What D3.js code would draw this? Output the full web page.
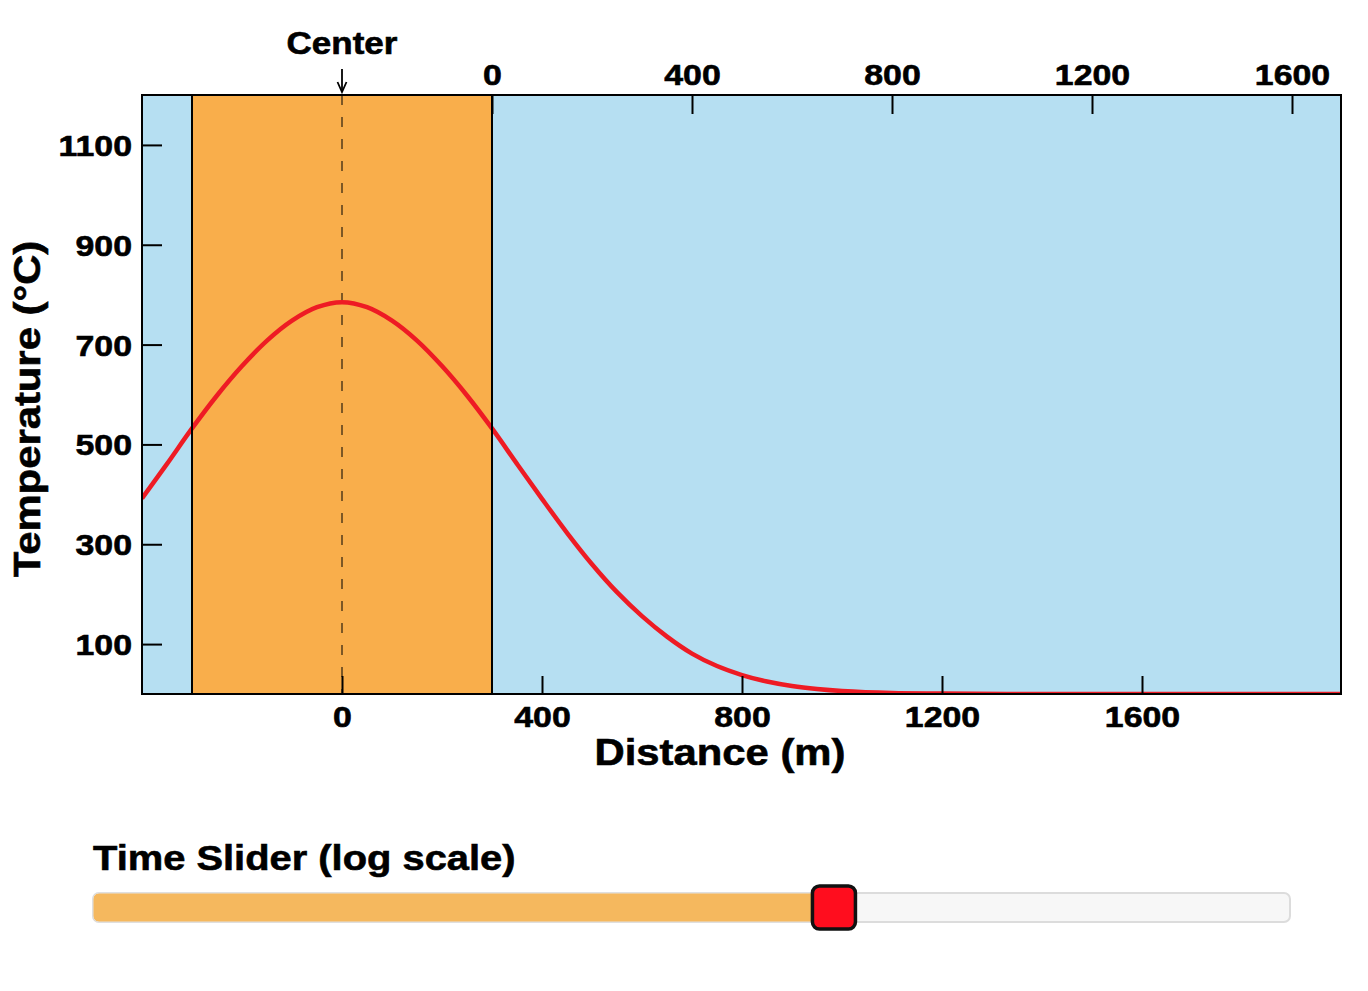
<!DOCTYPE html>
<html>
<head>
<meta charset="utf-8">
<script src="https://cdn.jsdelivr.net/npm/d3@7"></script>
<style>
  html, body { margin: 0; padding: 0; background: #ffffff; }
  svg { display: block; }
  text { font-family: "Liberation Sans", Arial, Helvetica, sans-serif; font-weight: bold; fill: #000; stroke: #000; stroke-width: 0.6px; }
</style>
</head>
<body>
<svg id="chart" width="1368" height="991"></svg>
<script>
// ---------------- data ----------------
const distance = [-400,-350,-300,-250,-200,-150,-100,-50,0,50,100,150,200,250,300,350,400,450,500,550,600,650,700,750,800,850,900,950,1000,1100,1200,1400,1600,1800,2000];
const temperature = [392,461,532,598,657,708,748,775,785,775,748,708,657,598,532,461,391,323,260,204,156,115,81,56,38,25,16,10,6,2,1,0,0,0,0];
const dikeEdges = [-300, 300];
const bottomTicks = [0, 400, 800, 1200, 1600];
const topTicks = [0, 400, 800, 1200, 1600];
const yTicks = [100, 300, 500, 700, 900, 1100];
const xDomain = [-400, 2000];
const yDomain = [0, 1200];
const centerLabel = "Center";
const xTitle = "Distance (m)";
const yTitle = "Temperature (°C)";
const sliderTitle = "Time Slider (log scale)";
const sliderPosition = 0.619;

// ---------------- layout ----------------
const L = 142, R = 1342, T = 95, B = 694;
const SX = 1.13; // horizontal glyph stretch
const svg = d3.select("#chart");

const x = d3.scaleLinear().domain(xDomain).range([L, R]);
const y = d3.scaleLinear().domain(yDomain).range([B, T]);
const xTop = d3.scaleLinear().domain([xDomain[0] - dikeEdges[1], xDomain[1] - dikeEdges[1]]).range([L, R]);

// background
svg.append("rect").attr("x", L).attr("y", T).attr("width", R - L - 1).attr("height", B - T)
  .attr("fill", "#b6dff2");
// dike band
svg.append("rect").attr("x", x(dikeEdges[0])).attr("y", T)
  .attr("width", x(dikeEdges[1]) - x(dikeEdges[0])).attr("height", B - T)
  .attr("fill", "#f9ae4b");

// center dashed line
svg.append("line").attr("x1", x(0)).attr("x2", x(0)).attr("y1", T).attr("y2", B)
  .attr("stroke", "#000").attr("stroke-opacity", 0.5).attr("stroke-width", 2)
  .attr("stroke-dasharray", "10,12");

// curve
svg.append("clipPath").attr("id", "clip").append("rect")
  .attr("x", L).attr("y", T - 5).attr("width", R - L - 1).attr("height", B - T + 5);
const line = d3.line().x((d, i) => x(distance[i])).y(d => y(d)).curve(d3.curveCatmullRom.alpha(0.5));
svg.append("path").datum(temperature).attr("d", line)
  .attr("clip-path", "url(#clip)")
  .attr("fill", "none").attr("stroke", "#ee1b24").attr("stroke-width", 4.5);

// dike edge lines
dikeEdges.forEach(e => {
  svg.append("line").attr("x1", x(e)).attr("x2", x(e)).attr("y1", T).attr("y2", B)
    .attr("stroke", "#000").attr("stroke-width", 2);
});

// axes
const gB = svg.append("g").attr("transform", `translate(0,${B})`)
  .call(d3.axisBottom(x).tickValues(bottomTicks).tickSizeInner(-18).tickSizeOuter(0).tickFormat(d3.format("d")));
const gT = svg.append("g").attr("transform", `translate(0,${T})`)
  .call(d3.axisTop(xTop).tickValues(topTicks).tickSizeInner(-19).tickSizeOuter(0).tickFormat(d3.format("d")));
const gL = svg.append("g").attr("transform", `translate(${L},0)`)
  .call(d3.axisLeft(y).tickValues(yTicks).tickSizeInner(-20).tickSizeOuter(0).tickFormat(d3.format("d")));

[gB, gT, gL].forEach(g => {
  g.select(".domain").remove();
  g.selectAll(".tick line").attr("stroke", "#000").attr("stroke-width", 2);
  g.selectAll(".tick text").attr("font-size", 30).attr("fill", "#000")
    .attr("font-family", "Liberation Sans, Arial, sans-serif").attr("font-weight", "bold");
});
gB.selectAll(".tick text").attr("x", 0).attr("y", 33).attr("dy", null)
  .attr("transform", `scale(${SX},1)`);
gT.selectAll(".tick text").attr("x", 0).attr("y", -10).attr("dy", null)
  .attr("transform", `scale(${SX},1)`);
gL.selectAll(".tick text").attr("x", -10 / SX).attr("y", 10.5).attr("dy", null)
  .attr("text-anchor", "end").attr("transform", `scale(${SX},1)`);

// frame
svg.append("rect").attr("x", L).attr("y", T).attr("width", R - L - 1).attr("height", B - T)
  .attr("fill", "none").attr("stroke", "#000").attr("stroke-width", 2);

// center label + arrow
svg.append("text").attr("transform", `translate(${x(0)},54) scale(${SX},1)`)
  .attr("text-anchor", "middle").attr("font-size", 31).text(centerLabel);
svg.append("line").attr("x1", x(0)).attr("x2", x(0)).attr("y1", 69).attr("y2", 91)
  .attr("stroke", "#000").attr("stroke-width", 1.8);
svg.append("path").attr("d", `M${x(0) - 4.5},82 L${x(0)},92 L${x(0) + 4.5},82`)
  .attr("fill", "none").attr("stroke", "#000").attr("stroke-width", 1.8);

// axis titles
svg.append("text").attr("transform", `translate(720,765) scale(${SX},1)`)
  .attr("text-anchor", "middle").attr("font-size", 37).text(xTitle);
svg.append("text").attr("transform", `translate(39.5,409) rotate(-90) scale(${SX},1)`)
  .attr("text-anchor", "middle").attr("font-size", 37).text(yTitle);

// slider
const sL = 93, sR = 1290, sT = 893, sH = 29;
const sx = d3.scaleLinear().domain([0, 1]).range([sL, sR]);
svg.append("text").attr("transform", `translate(${sL},870) scale(${SX},1)`)
  .attr("font-size", 35.3).text(sliderTitle);
svg.append("rect").attr("x", sL).attr("y", sT).attr("width", sR - sL).attr("height", sH)
  .attr("rx", 6).attr("fill", "#f7f7f7").attr("stroke", "#dcdcdc").attr("stroke-width", 2);
svg.append("rect").attr("x", sL).attr("y", sT).attr("width", sx(sliderPosition) - sL).attr("height", sH)
  .attr("rx", 6).attr("fill", "#f5b85e").attr("stroke", "#e2e2e2").attr("stroke-width", 1);
const hs = 43;
svg.append("rect").attr("x", sx(sliderPosition) - hs / 2).attr("y", sT + sH / 2 - hs / 2)
  .attr("width", hs).attr("height", hs).attr("rx", 7)
  .attr("fill", "#ff0d1e").attr("stroke", "#111").attr("stroke-width", 3.5);
</script>
</body>
</html>
